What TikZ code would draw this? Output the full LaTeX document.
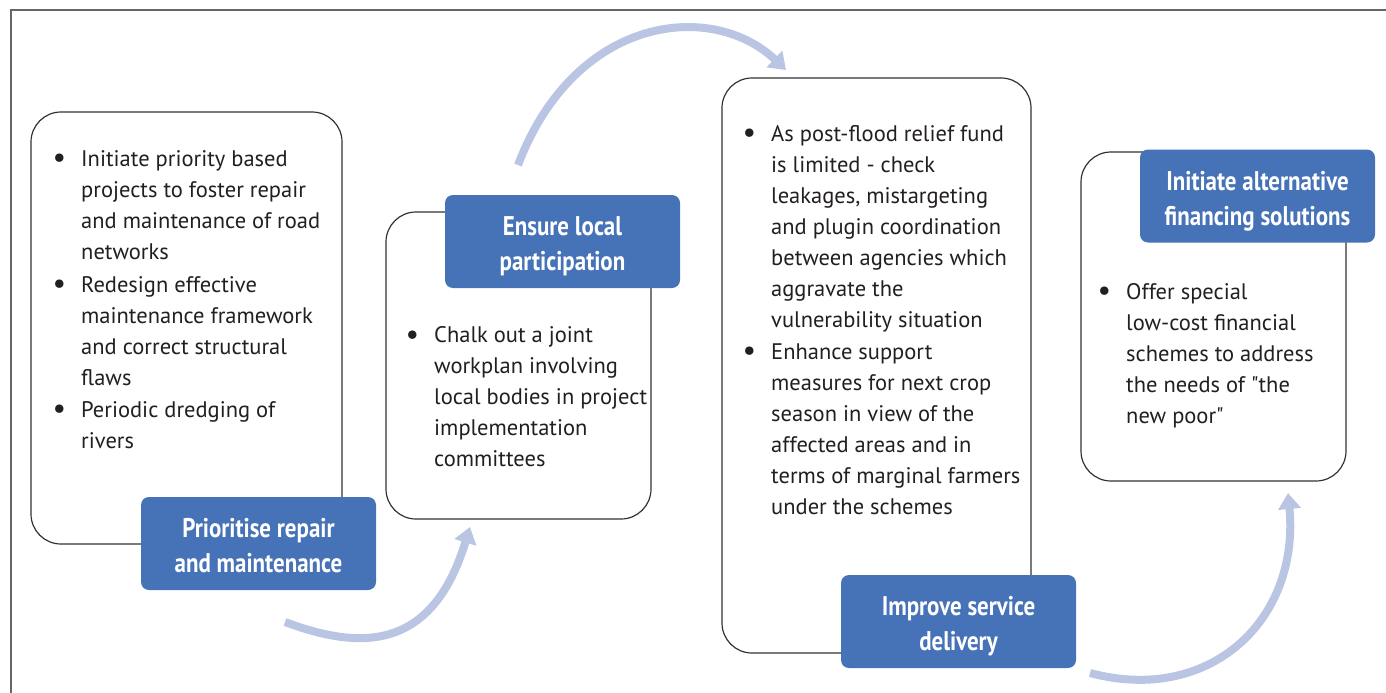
\documentclass[tikz,border=0pt]{standalone}
\usepackage{fontspec}
\setmainfont{PT Sans}[Ligatures=TeXOff]
\newfontfamily\headfont{PT Sans}[FakeStretch=0.85]
\usetikzlibrary{arrows.meta}

\definecolor{headblue}{HTML}{4672B8}
\definecolor{arrowblue}{HTML}{BAC4E3}
\definecolor{edge}{HTML}{333333}
\definecolor{ink}{HTML}{231F20}

\tikzset{
  card/.style={draw=edge, line width=1.2pt, rounded corners=30pt, fill=white,
    inner sep=0pt, outer sep=0pt},
  heading/.style={fill=headblue, rounded corners=8pt, minimum width=235pt,
    minimum height=93pt, inner sep=0pt, outer sep=0pt, text=white, align=center,
    text height=58pt, text depth=0pt,
    font=\headfont\bfseries\fontsize{27}{35}\selectfont},
  % anchored at the baseline of the last line
  points/.style={anchor=base west, inner sep=0pt, align=left, text=ink,
    font=\fontsize{22.5}{31}\selectfont},
  flow/.style={arrowblue, line width=8pt, -{Triangle[width=22pt,length=16pt]}}
}
\newcommand{\bul}{\llap{\raisebox{-1.5pt}{\fontsize{30}{30}\selectfont\textbullet}\hspace{15pt}}}

\begin{document}
\begin{tikzpicture}[x=1pt, y=-1pt]
  \useasboundingbox (0,0) rectangle (1386,693);
  \draw[line width=1.5pt, black!60] (11,693) -- (11,10) -- (1386,10);

  % cards and their headings
  \node[card, minimum width=311pt, minimum height=432pt] (repair) at (186.5,328) {};
  \node[points] (repairtxt) at (81,448) {\bul Initiate priority based\\
    projects to foster repair\\ and maintenance of road\\ networks\\[2pt]
    \bul Redesign effective\\ maintenance framework\\ and correct structural\\ flaws\\[1pt]
    \bul Periodic dredging of\\ rivers};
  \node[heading] (repairhd) at (258.5,543.5) {Prioritise repair\\and maintenance};

  \node[card, minimum width=265pt, minimum height=307pt] (local) at (518.5,365.5) {};
  \node[points] (localtxt) at (434,466.5) {\bul Chalk out a joint\\ workplan involving\\
    local bodies in project\\ implementation\\ committees};
  \node[heading] (localhd) at (562.5,241.5) {Ensure local\\participation};

  \node[card, minimum width=309pt, minimum height=575pt] (service) at (876.5,365.5) {};
  \node[points] (servicetxt) at (771,514) {\bul As post-flood relief fund\\
    is limited - check\\ leakages, mistargeting\\ and plugin coordination\\
    between agencies which\\ aggravate the\\ vulnerability situation\\[1pt]
    \bul Enhance support\\ measures for next crop\\ season in view of the\\
    affected areas and in\\ terms of marginal farmers\\ under the schemes};
  \node[heading] (servicehd) at (958.5,621.5) {Improve service\\delivery};

  \node[card, minimum width=265pt, minimum height=329pt] (finance) at (1213.5,316.5) {};
  \node[points] (financetxt) at (1126,423) {\bul Offer special\\ low-cost financial\\
    schemes to address\\ the needs of "the\\ new poor"};
  \node[heading] (financehd) at (1257.5,196) {Initiate alternative\\financing solutions};

  % curved arrows between the steps
  \coordinate (s1) at (285,622);  \coordinate (e1) at (470,527);
  \coordinate (s2) at (518,165);  \coordinate (e2) at (786,70);
  \coordinate (s3) at (1090,673); \coordinate (e3) at (1288,493);
  \draw[flow] (s1) .. controls (360,650) and (432,652) .. (e1);
  \draw[flow] (s2) .. controls (575,15) and (712,0) .. (e2);
  \draw[flow] (s3) .. controls (1210,705) and (1300,620) .. (e3);
\end{tikzpicture}
\end{document}
